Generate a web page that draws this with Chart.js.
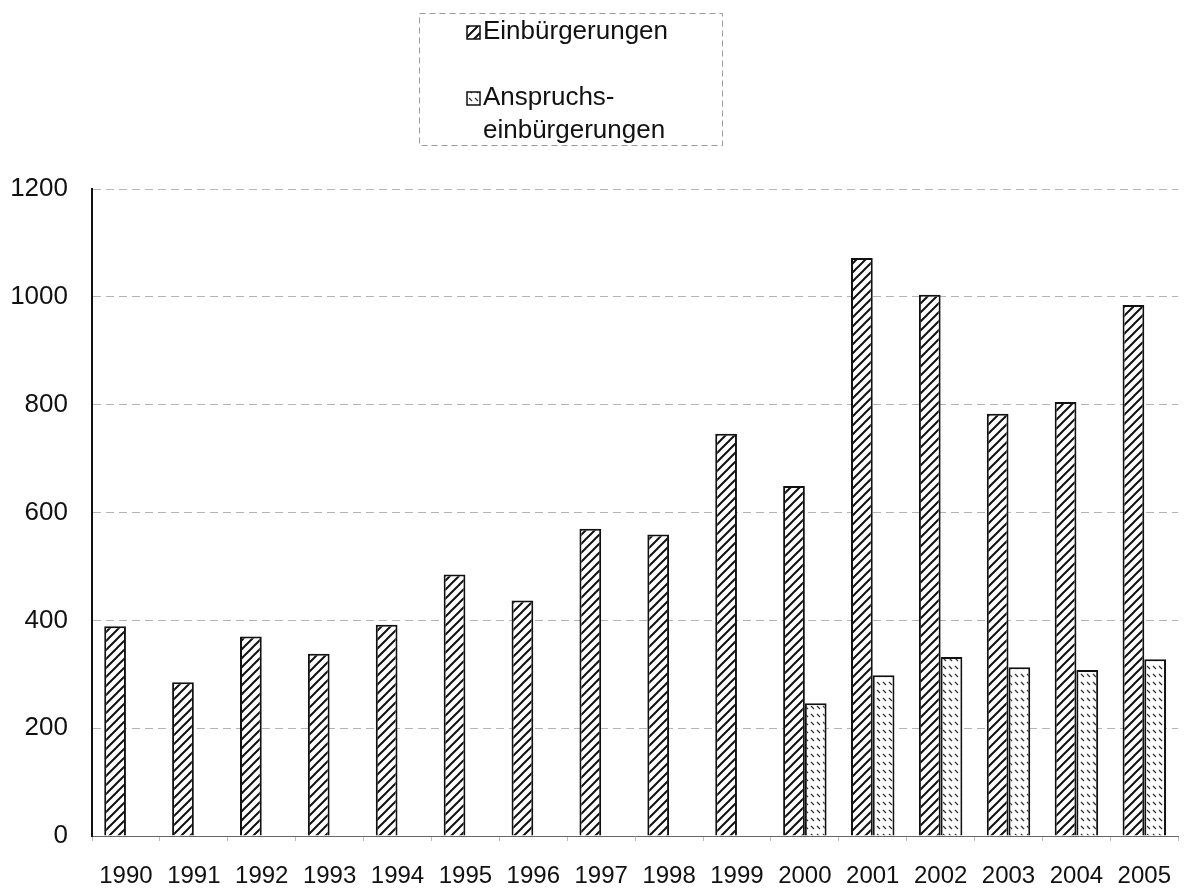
<!DOCTYPE html>
<html>
<head>
<meta charset="utf-8">
<script src="https://cdn.jsdelivr.net/npm/chart.js@4/dist/chart.umd.min.js"></script>
<style>
  html, body { margin: 0; padding: 0; background: #fff; overflow: hidden; }
  #chart1 { display: block; }
</style>
</head>
<body>
<canvas id="chart1" width="1192" height="888"></canvas>
<script>
const years = ['1990', '1991', '1992', '1993', '1994', '1995', '1996', '1997',
  '1998', '1999', '2000', '2001', '2002', '2003', '2004', '2005'];
const einbuergerungen = [389, 285, 370, 338, 392, 485, 437, 570, 559, 746, 649, 1072, 1004, 783, 805, 985];
const anspruchs = [null, null, null, null, null, null, null, null, null, null, 246, 298, 332, 313, 308, 328];
const legendLabels = [['Einbürgerungen'], ['Anspruchs-', 'einbürgerungen']];
const yTicks = [0, 200, 400, 600, 800, 1000, 1200];

const fontName = '"Liberation Sans", Arial, sans-serif';

// diagonal "/" hatch
function makeHatch() {
  const c = document.createElement('canvas');
  c.width = 9; c.height = 9;
  const g = c.getContext('2d');
  g.fillStyle = '#fff';
  g.fillRect(0, 0, 9, 9);
  g.strokeStyle = '#111';
  g.lineWidth = 2;
  g.beginPath();
  g.moveTo(-2, 11); g.lineTo(11, -2);
  g.moveTo(-2, 2); g.lineTo(2, -2);
  g.moveTo(7, 11); g.lineTo(11, 7);
  g.stroke();
  return g.createPattern(c, 'repeat');
}

// short "\" dashes
function makeDots() {
  const c = document.createElement('canvas');
  c.width = 6; c.height = 8;
  const g = c.getContext('2d');
  g.fillStyle = '#fff';
  g.fillRect(0, 0, 6, 8);
  g.strokeStyle = '#333';
  g.lineWidth = 1.3;
  g.beginPath();
  g.moveTo(1, 2); g.lineTo(4, 5);
  g.stroke();
  return g.createPattern(c, 'repeat');
}

const legendBox = {
  id: 'legendBox',
  afterDraw(chart) {
    const ctx = chart.ctx;
    const fills = chart.data.datasets.map(d => d.backgroundColor);
    ctx.save();
    ctx.setLineDash([6, 4]);
    ctx.strokeStyle = '#999';
    ctx.lineWidth = 1;
    ctx.strokeRect(419.5, 13.5, 303, 132);
    ctx.setLineDash([]);
    const rows = [32, 98];
    ctx.font = '26px ' + fontName;
    ctx.textBaseline = 'middle';
    legendLabels.forEach((lines, i) => {
      const y = rows[i];
      ctx.fillStyle = fills[i];
      ctx.fillRect(467, y - 6, 13, 13);
      ctx.strokeStyle = '#111';
      ctx.lineWidth = 1.5;
      ctx.strokeRect(467, y - 6, 13, 13);
      ctx.fillStyle = '#111';
      lines.forEach((t, j) => ctx.fillText(t, 483, y + j * 33));
    });
    ctx.restore();
  }
};

document.addEventListener('DOMContentLoaded', function () {
  const chartCanvas = document.getElementById('chart1');
  const ctx = chartCanvas.getContext('2d');

  new Chart(ctx, {
    type: 'bar',
    data: {
      labels: years,
      datasets: [{
        label: legendLabels[0].join(' '),
        data: einbuergerungen,
        backgroundColor: makeHatch(),
        borderColor: '#111',
        borderWidth: 2,
      }, {
        label: legendLabels[1].join(''),
        data: anspruchs,
        backgroundColor: makeDots(),
        borderColor: '#111',
        borderWidth: 2,
      }]
    },
    options: {
      responsive: false,
      animation: false,
      layout: { padding: { top: 189, left: 0, right: 0, bottom: 0 } },
      plugins: {
        legend: { display: false },
        tooltip: { enabled: false },
      },
      datasets: {
        bar: { categoryPercentage: 0.64, barPercentage: 1.0 }
      },
      scales: {
        x: {
          grid: {
            drawOnChartArea: false,
            offset: true,
            tickLength: 5,
            color: '#bbb',
          },
          border: { color: '#666', width: 1, dash: [4, 2] },
          ticks: {
            color: '#111',
            padding: 21,
            maxRotation: 0,
            autoSkip: false,
            font: { family: fontName, size: 24 },
          },
          afterFit(axis) { axis.height = 52; },
        },
        y: {
          min: 0,
          max: 1200,
          afterBuildTicks(axis) { axis.ticks = yTicks.map(v => ({ value: v })); },
          grid: {
            color: '#b5b5b5',
            lineWidth: 1,
            drawTicks: false,
            tickLength: 0,
          },
          border: { color: '#111', width: 2, dash: [8, 5] },
          ticks: {
            color: '#111',
            padding: 24,
            font: { family: fontName, size: 26 },
            callback: v => String(v),
          },
          afterFit(axis) { axis.width = 92; },
        },
      },
    },
    plugins: [legendBox],
  });
});
</script>
</body>
</html>
